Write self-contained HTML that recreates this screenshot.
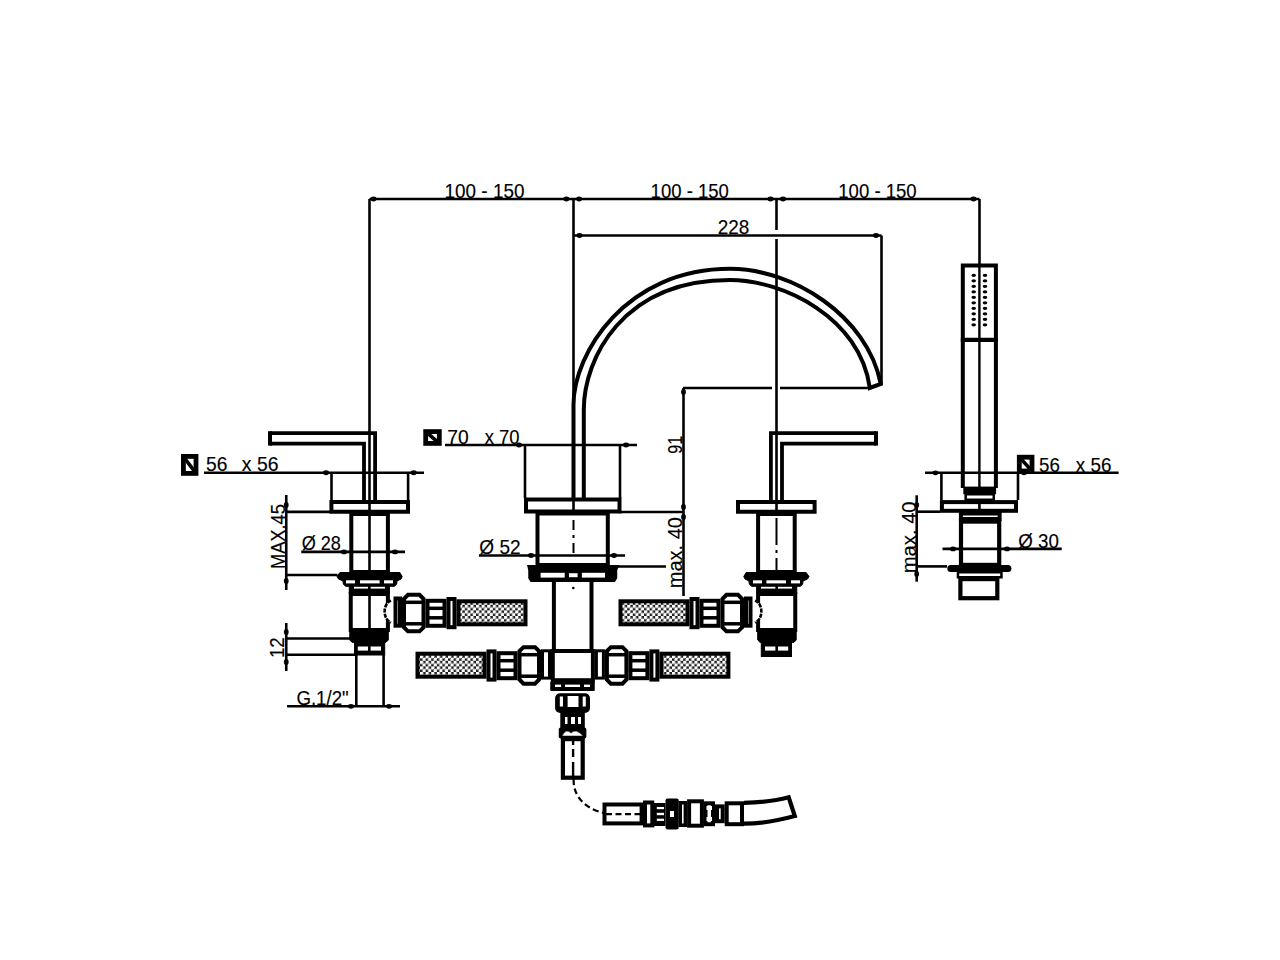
<!DOCTYPE html>
<html><head><meta charset="utf-8">
<style>
html,body{margin:0;padding:0;background:#fff;width:1280px;height:960px;overflow:hidden}
svg{display:block}
text{font-family:"Liberation Sans",sans-serif;font-size:21px;fill:#000;stroke:#000;stroke-width:0.15px}
</style></head>
<body>
<svg width="1280" height="960" viewBox="0 0 1280 960">
<defs>
  <pattern id="hatch" width="5.6" height="5.6" patternUnits="userSpaceOnUse" x="0" y="0">
    <rect width="5.6" height="5.6" fill="#1a1a1a"/>
    <circle cx="1.4" cy="1.4" r="1.85" fill="#fff"/>
    <circle cx="4.2" cy="4.2" r="1.85" fill="#fff"/>
  </pattern>
</defs>

<g stroke="#000" fill="none" stroke-width="2" stroke-linecap="butt">
<line x1="369.5" y1="199" x2="979.5" y2="199" stroke-width="2.6" />
<ellipse cx="373.5" cy="199" rx="3" ry="2.4" fill="#000" stroke="none"/>
<ellipse cx="566.4" cy="199" rx="3" ry="2.4" fill="#000" stroke="none"/>
<ellipse cx="579.2" cy="199" rx="3" ry="2.4" fill="#000" stroke="none"/>
<ellipse cx="770.5" cy="199" rx="3" ry="2.4" fill="#000" stroke="none"/>
<ellipse cx="783" cy="199" rx="3" ry="2.4" fill="#000" stroke="none"/>
<ellipse cx="973.5" cy="199" rx="3" ry="2.4" fill="#000" stroke="none"/>
<line x1="369.5" y1="199" x2="369.5" y2="500" stroke-width="2.6" />
<line x1="573.5" y1="199" x2="573.5" y2="400" stroke-width="2.6" />
<line x1="776.5" y1="199" x2="776.5" y2="230" stroke-width="2.6" />
<line x1="776.5" y1="239" x2="776.5" y2="500" stroke-width="2.6" />
<line x1="979.5" y1="199" x2="979.5" y2="265" stroke-width="2.6" />
<line x1="573.5" y1="235.5" x2="881.5" y2="235.5" stroke-width="2.6" />
<ellipse cx="579.5" cy="235.5" rx="3" ry="2.4" fill="#000" stroke="none"/>
<ellipse cx="876" cy="235.5" rx="3" ry="2.4" fill="#000" stroke="none"/>
<line x1="881.5" y1="235.5" x2="881.5" y2="384" stroke-width="2.6" />
<line x1="683" y1="388" x2="772" y2="388" stroke-width="2.6" />
<line x1="780" y1="388" x2="870" y2="388" stroke-width="2.6" />
<line x1="683.5" y1="388" x2="683.5" y2="596" stroke-width="2.6" />
<ellipse cx="683.5" cy="392" rx="2.4" ry="3" fill="#000" stroke="none"/>
<ellipse cx="683.5" cy="507" rx="2.4" ry="3" fill="#000" stroke="none"/>
<ellipse cx="683.5" cy="517" rx="2.4" ry="3" fill="#000" stroke="none"/>
<line x1="619" y1="512" x2="683.5" y2="512" stroke-width="2.6" />
<line x1="613" y1="566.5" x2="666" y2="566.5" stroke-width="2.6" />
<path d="M573.5,498 L573.5,404.6 C573.5,353.6 625.7,268.8 730,268.8 C792.3,268.8 867.3,315.6 880.8,384 L869.8,388 C860.4,317.5 782.7,280 730,280 C621.9,280 583.8,359.4 583.8,409.7 L583.8,498" stroke-width="4" fill="none" />
<line x1="445" y1="445" x2="637" y2="445" stroke-width="2.6" />
<ellipse cx="519" cy="445" rx="3" ry="2.4" fill="#000" stroke="none"/>
<ellipse cx="626" cy="445" rx="3" ry="2.4" fill="#000" stroke="none"/>
<line x1="525" y1="445" x2="525" y2="498" stroke-width="2.6" />
<line x1="620" y1="445" x2="620" y2="498" stroke-width="2.6" />
<rect x="526.00" y="499.50" width="93.50" height="12.00" rx="0" stroke-width="4" fill="#fff" />
<line x1="573.5" y1="498" x2="573.5" y2="513" stroke-width="2.6" />
<rect x="537.50" y="513.50" width="70.30" height="51.50" rx="0" stroke-width="4" fill="#fff" />
<path d="M573.5,520 V530 M573.5,535 V538 M573.5,543 V553" stroke-width="2" fill="none" />
<line x1="479" y1="555.5" x2="625" y2="555.5" stroke-width="2.6" />
<ellipse cx="531" cy="555.5" rx="3" ry="2.4" fill="#000" stroke="none"/>
<ellipse cx="614" cy="555.5" rx="3" ry="2.4" fill="#000" stroke="none"/>
<path d="M528,565.8 H618.3 L616.5,570 V578 L614.5,581.3 H531 L529,578 V570 Z" stroke-width="1.5" fill="#000" />
<rect x="540.60" y="572.80" width="24.10" height="4.80" fill="#fff" stroke="none"/>
<rect x="569.00" y="573.20" width="8.60" height="4.00" fill="#fff" stroke="none"/>
<rect x="581.90" y="572.80" width="23.10" height="4.80" fill="#fff" stroke="none"/>
<line x1="553.9" y1="581" x2="553.9" y2="651" stroke-width="4" />
<line x1="591.5" y1="581" x2="591.5" y2="651" stroke-width="4" />
<circle cx="573.3" cy="588" r="1.3" fill="#000" stroke="none"/>
<rect x="552.80" y="651.00" width="40.10" height="29.20" rx="0" stroke-width="4" fill="#fff" />
<rect x="542.50" y="650.80" width="7.00" height="27.30" rx="0" stroke-width="3" fill="#fff" />
<rect x="596.40" y="650.80" width="7.00" height="27.30" rx="0" stroke-width="3" fill="#fff" />
<path d="M550.8,682 H594.2 V690.5 H550.8 Z" stroke-width="1" fill="#000" />
<rect x="555.00" y="684.60" width="6.00" height="2.40" fill="#fff" stroke="none"/>
<rect x="565.00" y="684.60" width="15.00" height="2.40" fill="#fff" stroke="none"/>
<rect x="584.00" y="684.60" width="6.00" height="2.40" fill="#fff" stroke="none"/>
<path d="M523.5,647.2 H535 L539,651.2 V679.7 L535,683.7 H523.5 L519.5,679.7 V651.2 Z" stroke-width="4" fill="#fff" />
<line x1="519.5" y1="654.7" x2="539" y2="654.7" stroke-width="3.5" />
<line x1="519.5" y1="676.2" x2="539" y2="676.2" stroke-width="3.5" />
<rect x="498.50" y="653.20" width="17.00" height="25.00" rx="0" stroke-width="4" fill="#fff" />
<line x1="497" y1="660.7" x2="517" y2="660.7" stroke-width="3.5" />
<line x1="497" y1="670.2" x2="517" y2="670.2" stroke-width="3.5" />
<rect x="488.50" y="651.40" width="6.00" height="28.20" rx="0" stroke-width="4" fill="#fff" />
<rect x="417.50" y="653.70" width="67.00" height="23.00" rx="0" stroke-width="4" fill="url(#hatch)" />
<path d="M610.9,647.2 H622.4 L626.4,651.2 V679.7 L622.4,683.7 H610.9 L606.9,679.7 V651.2 Z" stroke-width="4" fill="#fff" />
<line x1="606.9" y1="654.7" x2="626.4" y2="654.7" stroke-width="3.5" />
<line x1="606.9" y1="676.2" x2="626.4" y2="676.2" stroke-width="3.5" />
<rect x="630.40" y="653.20" width="17.00" height="25.00" rx="0" stroke-width="4" fill="#fff" />
<line x1="628.9" y1="660.7" x2="648.9" y2="660.7" stroke-width="3.5" />
<line x1="628.9" y1="670.2" x2="648.9" y2="670.2" stroke-width="3.5" />
<rect x="651.40" y="651.40" width="6.00" height="28.20" rx="0" stroke-width="4" fill="#fff" />
<rect x="661.40" y="653.70" width="67.00" height="23.00" rx="0" stroke-width="4" fill="url(#hatch)" />
<path d="M270.00,433.10 L375.10,433.10 L375.10,500.00 " stroke-width="3.8" fill="none" />
<path d="M270.00,431.20 L270.00,445.60 " stroke-width="4" fill="none" />
<path d="M270.00,443.60 L364.00,443.60 L364.00,500.00 " stroke-width="3.8" fill="none" />
<line x1="331.5" y1="472.5" x2="331.5" y2="500" stroke-width="2.6" />
<line x1="408.1" y1="472.5" x2="408.1" y2="500" stroke-width="2.6" />
<rect x="331.40" y="502.00" width="76.60" height="9.75" rx="0" stroke-width="4" fill="#fff" />
<line x1="369.5" y1="500" x2="369.5" y2="514" stroke-width="2.6" />
<rect x="351.30" y="514.00" width="36.60" height="58.00" rx="0" stroke-width="4" fill="#fff" />
<line x1="369.5" y1="513" x2="369.5" y2="573" stroke-width="2.6" />
<path d="M339.90,572.50 L399.80,572.50 L402.20,576.50 L401.00,579.00 L397.00,581.00 L396.70,584.00 L394.50,586.30 L345.50,586.30 L343.30,584.00 L343.00,581.00 L338.50,579.00 L337.00,576.50 Z339.90,572.50 " stroke-width="1" fill="#000" />
<rect x="346.00" y="580.30" width="9.00" height="3.10" fill="#fff" stroke="none"/>
<rect x="360.00" y="580.30" width="19.60" height="3.10" fill="#fff" stroke="none"/>
<rect x="384.00" y="580.30" width="9.00" height="3.10" fill="#fff" stroke="none"/>
<rect x="349.25" y="586.50" width="40.15" height="6.50" rx="0" stroke-width="1" fill="#000" />
<rect x="354.00" y="586.80" width="14.00" height="1.80" fill="#fff" stroke="none"/>
<rect x="370.60" y="586.80" width="14.40" height="1.80" fill="#fff" stroke="none"/>
<rect x="350.75" y="594.00" width="37.15" height="36.00" rx="0" stroke-width="4" fill="#fff" />
<line x1="369.5" y1="593" x2="369.5" y2="631" stroke-width="2.6" />
<path d="M349.80,630.80 L388.30,630.80 L388.30,640.00 L386.00,642.30 L352.00,642.30 L349.80,640.00 Z349.80,630.80 " stroke-width="1" fill="#000" />
<rect x="354.50" y="642.00" width="30.20" height="13.00" rx="0" stroke-width="1" fill="#000" />
<rect x="357.80" y="646.50" width="10.20" height="4.10" fill="#fff" stroke="none"/>
<rect x="370.60" y="646.50" width="10.40" height="4.10" fill="#fff" stroke="none"/>
<path d="M391.00,600.60 C382.50,604.00  382.50,619.00  391.00,622.50 " stroke-width="2.6" fill="#fff" stroke-dasharray="4,1.2"/>
<rect x="395.50" y="598.50" width="4.50" height="27.20" rx="0" stroke-width="4" fill="#fff" />
<path d="M408,594.8 H419.5 L423.5,598.8 V627.3 L419.5,631.3 H408 L404,627.3 V598.8 Z" stroke-width="4" fill="#fff" />
<line x1="404" y1="602.3" x2="423.5" y2="602.3" stroke-width="3.5" />
<line x1="404" y1="623.8" x2="423.5" y2="623.8" stroke-width="3.5" />
<rect x="427.50" y="600.80" width="17.00" height="25.00" rx="0" stroke-width="4" fill="#fff" />
<line x1="426" y1="608.3" x2="446" y2="608.3" stroke-width="3.5" />
<line x1="426" y1="617.8" x2="446" y2="617.8" stroke-width="3.5" />
<rect x="448.50" y="599.00" width="6.00" height="28.20" rx="0" stroke-width="4" fill="#fff" />
<rect x="458.50" y="601.30" width="67.00" height="23.00" rx="0" stroke-width="4" fill="url(#hatch)" />
<path d="M876.00,433.10 L770.90,433.10 L770.90,500.00 " stroke-width="3.8" fill="none" />
<path d="M876.00,431.20 L876.00,445.60 " stroke-width="4" fill="none" />
<path d="M876.00,443.60 L782.00,443.60 L782.00,500.00 " stroke-width="3.8" fill="none" />
<rect x="738.00" y="502.00" width="76.60" height="9.75" rx="0" stroke-width="4" fill="#fff" />
<line x1="776.5" y1="500" x2="776.5" y2="514" stroke-width="2.6" />
<rect x="758.10" y="514.00" width="36.60" height="58.00" rx="0" stroke-width="4" fill="#fff" />
<path d="M776.5,518 V545 M776.5,550 V553 M776.5,558 V572" stroke-width="2" fill="none" />
<path d="M806.10,572.50 L746.20,572.50 L743.80,576.50 L745.00,579.00 L749.00,581.00 L749.30,584.00 L751.50,586.30 L800.50,586.30 L802.70,584.00 L803.00,581.00 L807.50,579.00 L809.00,576.50 Z806.10,572.50 " stroke-width="1" fill="#000" />
<rect x="791.00" y="580.30" width="9.00" height="3.10" fill="#fff" stroke="none"/>
<rect x="766.40" y="580.30" width="19.60" height="3.10" fill="#fff" stroke="none"/>
<rect x="753.00" y="580.30" width="9.00" height="3.10" fill="#fff" stroke="none"/>
<rect x="756.60" y="586.50" width="40.15" height="6.50" rx="0" stroke-width="1" fill="#000" />
<rect x="778.00" y="586.80" width="14.00" height="1.80" fill="#fff" stroke="none"/>
<rect x="761.00" y="586.80" width="14.40" height="1.80" fill="#fff" stroke="none"/>
<rect x="758.10" y="594.00" width="37.15" height="36.00" rx="0" stroke-width="4" fill="#fff" />
<path d="M796.20,630.80 L757.70,630.80 L757.70,640.00 L760.00,642.30 L794.00,642.30 L796.20,640.00 Z796.20,630.80 " stroke-width="1" fill="#000" />
<rect x="761.30" y="642.00" width="30.20" height="14.50" rx="0" stroke-width="1" fill="#000" />
<rect x="778.00" y="646.50" width="10.20" height="4.10" fill="#fff" stroke="none"/>
<rect x="765.00" y="646.50" width="10.40" height="4.10" fill="#fff" stroke="none"/>
<path d="M755.00,600.60 C763.50,604.00  763.50,619.00  755.00,622.50 " stroke-width="2.6" fill="#fff" stroke-dasharray="4,1.2"/>
<rect x="746.00" y="598.50" width="4.50" height="27.20" rx="0" stroke-width="4" fill="#fff" />
<path d="M726.5,594.8 H738 L742,598.8 V627.3 L738,631.3 H726.5 L722.5,627.3 V598.8 Z" stroke-width="4" fill="#fff" />
<line x1="722.5" y1="602.3" x2="742" y2="602.3" stroke-width="3.5" />
<line x1="722.5" y1="623.8" x2="742" y2="623.8" stroke-width="3.5" />
<rect x="701.50" y="600.80" width="17.00" height="25.00" rx="0" stroke-width="4" fill="#fff" />
<line x1="700" y1="608.3" x2="720" y2="608.3" stroke-width="3.5" />
<line x1="700" y1="617.8" x2="720" y2="617.8" stroke-width="3.5" />
<rect x="691.50" y="599.00" width="6.00" height="28.20" rx="0" stroke-width="4" fill="#fff" />
<rect x="620.50" y="601.30" width="67.00" height="23.00" rx="0" stroke-width="4" fill="url(#hatch)" />
<line x1="204" y1="472.75" x2="424" y2="472.75" stroke-width="2.6" />
<ellipse cx="326" cy="472.75" rx="3" ry="2.4" fill="#000" stroke="none"/>
<ellipse cx="413.7" cy="472.75" rx="3" ry="2.4" fill="#000" stroke="none"/>
<line x1="286.25" y1="495" x2="286.25" y2="590" stroke-width="2.6" />
<ellipse cx="286.25" cy="505" rx="2.4" ry="3" fill="#000" stroke="none"/>
<ellipse cx="286.25" cy="581" rx="2.4" ry="3" fill="#000" stroke="none"/>
<line x1="286.25" y1="511.9" x2="330" y2="511.9" stroke-width="2.6" />
<line x1="286.25" y1="575" x2="337.5" y2="575" stroke-width="2.6" />
<line x1="301.25" y1="551.9" x2="405" y2="551.9" stroke-width="2.6" />
<ellipse cx="344" cy="551.9" rx="3" ry="2.4" fill="#000" stroke="none"/>
<ellipse cx="395" cy="551.9" rx="3" ry="2.4" fill="#000" stroke="none"/>
<line x1="286.25" y1="623" x2="286.25" y2="671" stroke-width="2.6" />
<ellipse cx="286.25" cy="632" rx="2.4" ry="3" fill="#000" stroke="none"/>
<ellipse cx="286.25" cy="662" rx="2.4" ry="3" fill="#000" stroke="none"/>
<line x1="286.25" y1="638.5" x2="350" y2="638.5" stroke-width="2.6" />
<line x1="286.25" y1="654.8" x2="355" y2="654.8" stroke-width="2.6" />
<line x1="356.3" y1="655" x2="356.3" y2="706" stroke-width="2.6" />
<line x1="383.6" y1="655" x2="383.6" y2="706" stroke-width="2.6" />
<line x1="287" y1="706.3" x2="400" y2="706.3" stroke-width="2.6" />
<ellipse cx="351" cy="706.3" rx="3" ry="2.4" fill="#000" stroke="none"/>
<ellipse cx="389" cy="706.3" rx="3" ry="2.4" fill="#000" stroke="none"/>
<rect x="557.10" y="695.30" width="30.90" height="15.70" rx="3" stroke-width="4" fill="#fff" />
<rect x="559.80" y="695.40" width="3.20" height="12.00" fill="#000" stroke="none"/>
<rect x="556" y="694" width="33" height="18" fill="#000" stroke="none" rx="3"/>
<rect x="559.80" y="696.50" width="3.20" height="10.00" fill="#fff" stroke="none"/>
<rect x="567.60" y="696.00" width="10.90" height="11.00" fill="#fff" stroke="none"/>
<rect x="582.70" y="696.50" width="3.10" height="10.00" fill="#fff" stroke="none"/>
<rect x="560.3" y="712" width="24.5" height="16" fill="#000" stroke="none"/>
<rect x="565.00" y="717.00" width="2.50" height="7.00" fill="#fff" stroke="none"/>
<rect x="571.00" y="717.00" width="4.00" height="7.00" fill="#fff" stroke="none"/>
<rect x="578.00" y="717.00" width="3.00" height="7.00" fill="#fff" stroke="none"/>
<rect x="558.75" y="727.5" width="27.6" height="11" fill="#000" stroke="none" rx="2"/>
<path d="M562,736 Q566,728 571,733 Q576,728 583,736 Z" stroke-width="0.5" fill="#fff" />
<rect x="562.90" y="739.10" width="19.80" height="38.60" rx="0" stroke-width="4.2" fill="#fff" />
<path d="M573.1,740 V745 M573.1,749 V757 M573.1,762 V779" stroke-width="2.4" fill="none" />
<path d="M573.6,779 C573,800 590,810 603.5,812.7 C612,814 620,814.2 647,814.2" stroke-width="2.2" fill="none" stroke-dasharray="6,3.5"/>
<rect x="604.50" y="804.50" width="37.10" height="18.90" rx="0" stroke-width="4" fill="#fff" />
<path d="M606,814.2 H643" stroke-width="2.2" fill="none" stroke-dasharray="6,3.5"/>
<rect x="645.00" y="802.50" width="7.30" height="22.90" rx="0" stroke-width="4" fill="#fff" />
<rect x="654.00" y="803.00" width="11.50" height="23.00" fill="#000" stroke="none"/>
<rect x="656.80" y="807.00" width="7.20" height="2.20" fill="#fff" stroke="none"/>
<rect x="656.80" y="812.80" width="7.20" height="2.40" fill="#fff" stroke="none"/>
<rect x="656.80" y="818.70" width="7.20" height="2.20" fill="#fff" stroke="none"/>
<rect x="665.5" y="798.4" width="13.2" height="31" fill="#000" stroke="none" rx="2"/>
<rect x="670.00" y="811.00" width="4.00" height="6.00" fill="#fff" stroke="none"/>
<rect x="680.25" y="802.75" width="5.10" height="22.50" rx="0" stroke-width="3.5" fill="#fff" />
<rect x="689.10" y="801.30" width="12.80" height="24.40" rx="0" stroke-width="4" fill="#fff" />
<rect x="705.50" y="803.30" width="7.50" height="20.90" rx="0" stroke-width="4" fill="#fff" />
<rect x="706.50" y="806.00" width="5.50" height="4.00" fill="#fff" stroke="none"/>
<rect x="706.50" y="817.00" width="5.50" height="4.00" fill="#fff" stroke="none"/>
<rect x="717.00" y="806.40" width="5.70" height="14.80" rx="0" stroke-width="4" fill="#fff" />
<rect x="726.70" y="803.30" width="15.30" height="20.90" rx="0" stroke-width="4" fill="#fff" />
<path d="M744,802.9 C760,802.5 775,801 788.7,797.3 L794.8,816 C780,820 762,823.7 744,823.7" stroke-width="4.2" fill="none" />
<path d="M962.8,488 V265.4 H995.9 V488" stroke-width="4" fill="none" />
<line x1="960.8" y1="339.9" x2="997.9" y2="339.9" stroke-width="4.4" />
<line x1="979.4" y1="265" x2="979.4" y2="600" stroke-width="2.4" />
<rect x="963.30" y="486.60" width="32.80" height="7.60" fill="#000" stroke="none"/>
<rect x="965.65" y="494.25" width="28.10" height="5.50" rx="0" stroke-width="2.5" fill="#fff" />
<rect x="941.90" y="502.10" width="74.10" height="8.70" rx="0" stroke-width="4" fill="#fff" />
<line x1="979.4" y1="500" x2="979.4" y2="513" stroke-width="2.6" />
<rect x="960.90" y="513.50" width="38.70" height="5.50" rx="0" stroke-width="4" fill="#fff" />
<rect x="961.00" y="521.60" width="38.20" height="43.30" rx="0" stroke-width="4.2" fill="#fff" />
<rect x="947.3" y="564.9" width="64.1" height="7" rx="3.5" fill="#000" stroke="none"/>
<rect x="957.95" y="572.25" width="43.50" height="5.00" rx="0" stroke-width="2.5" fill="#fff" />
<rect x="960.40" y="579.10" width="36.90" height="19.10" rx="0" stroke-width="4.2" fill="#fff" />
<line x1="925" y1="472.8" x2="1118.6" y2="472.8" stroke-width="2.6" />
<ellipse cx="935.5" cy="472.8" rx="3" ry="2.4" fill="#000" stroke="none"/>
<ellipse cx="1024" cy="472.8" rx="3" ry="2.4" fill="#000" stroke="none"/>
<line x1="941.4" y1="472.8" x2="941.4" y2="500" stroke-width="2.6" />
<line x1="1018" y1="472.8" x2="1018" y2="500" stroke-width="2.6" />
<line x1="942.5" y1="548.9" x2="1061.7" y2="548.9" stroke-width="2.6" />
<ellipse cx="953" cy="548.9" rx="3" ry="2.4" fill="#000" stroke="none"/>
<ellipse cx="1007" cy="548.9" rx="3" ry="2.4" fill="#000" stroke="none"/>
<line x1="916.7" y1="495.3" x2="916.7" y2="581.7" stroke-width="2.6" />
<ellipse cx="916.7" cy="505" rx="2.4" ry="3" fill="#000" stroke="none"/>
<ellipse cx="916.7" cy="574" rx="2.4" ry="3" fill="#000" stroke="none"/>
<line x1="916.7" y1="511.7" x2="940" y2="511.7" stroke-width="2.6" />
<line x1="916.7" y1="566.4" x2="947" y2="566.4" stroke-width="2.6" />
</g>
<g fill="#000">
<ellipse cx="973.7" cy="275.3" rx="2.3" ry="1.6"/><ellipse cx="985" cy="275.3" rx="2.3" ry="1.6"/>
<ellipse cx="973.7" cy="280.8" rx="2.3" ry="1.6"/><ellipse cx="985" cy="280.8" rx="2.3" ry="1.6"/>
<ellipse cx="973.7" cy="286.3" rx="2.3" ry="1.6"/><ellipse cx="985" cy="286.3" rx="2.3" ry="1.6"/>
<ellipse cx="973.7" cy="291.8" rx="2.3" ry="1.6"/><ellipse cx="985" cy="291.8" rx="2.3" ry="1.6"/>
<ellipse cx="973.7" cy="297.3" rx="2.3" ry="1.6"/><ellipse cx="985" cy="297.3" rx="2.3" ry="1.6"/>
<ellipse cx="973.7" cy="302.8" rx="2.3" ry="1.6"/><ellipse cx="985" cy="302.8" rx="2.3" ry="1.6"/>
<ellipse cx="973.7" cy="308.3" rx="2.3" ry="1.6"/><ellipse cx="985" cy="308.3" rx="2.3" ry="1.6"/>
<ellipse cx="973.7" cy="313.8" rx="2.3" ry="1.6"/><ellipse cx="985" cy="313.8" rx="2.3" ry="1.6"/>
<ellipse cx="973.7" cy="319.3" rx="2.3" ry="1.6"/><ellipse cx="985" cy="319.3" rx="2.3" ry="1.6"/>
<ellipse cx="973.7" cy="324.8" rx="2.3" ry="1.6"/><ellipse cx="985" cy="324.8" rx="2.3" ry="1.6"/>
</g>
<g stroke="#000" fill="none"><rect x="183.4" y="456.4" width="12.600000000000005" height="17.00000000000001" stroke-width="4.8"/><path d="M183,456 L196.4,473.8" stroke-width="3.6"/></g>
<g stroke="#000" fill="none"><rect x="425.7" y="431.59999999999997" width="13.599999999999977" height="11.800000000000022" stroke-width="4.8"/><path d="M425.3,431.2 L439.7,443.8" stroke-width="3.6"/></g>
<g stroke="#000" fill="none"><rect x="1019.3" y="457.2" width="12.700000000000113" height="13.799999999999965" stroke-width="4.8"/><path d="M1018.9,456.8 L1032.4,471.4" stroke-width="3.6"/></g>
<g>
<text x="444.6" y="197.6" textLength="79.8" lengthAdjust="spacingAndGlyphs">100 - 150</text>
<text x="650.6" y="197.6" textLength="78.3" lengthAdjust="spacingAndGlyphs">100 - 150</text>
<text x="838.3" y="197.6" textLength="78.4" lengthAdjust="spacingAndGlyphs">100 - 150</text>
<text x="717.8" y="234" textLength="31.6" lengthAdjust="spacingAndGlyphs">228</text>
<text x="206.1" y="471.4" textLength="21.4" lengthAdjust="spacingAndGlyphs">56</text>
<text x="241.8" y="471.4" textLength="36.7" lengthAdjust="spacingAndGlyphs">x 56</text>
<text x="447.3" y="443.7" textLength="21.4" lengthAdjust="spacingAndGlyphs">70</text>
<text x="484.8" y="443.7" textLength="34.8" lengthAdjust="spacingAndGlyphs">x 70</text>
<text x="479.3" y="554" textLength="41.3" lengthAdjust="spacingAndGlyphs">Ø 52</text>
<text x="301.7" y="549.5" textLength="39.2" lengthAdjust="spacingAndGlyphs">Ø 28</text>
<text x="296.4" y="704.8" textLength="52.3" lengthAdjust="spacingAndGlyphs">G.1/2&quot;</text>
<text x="1039.1" y="471.5" textLength="20.8" lengthAdjust="spacingAndGlyphs">56</text>
<text x="1075.8" y="471.5" textLength="35.7" lengthAdjust="spacingAndGlyphs">x 56</text>
<text x="1018.3" y="547.6" textLength="40.6" lengthAdjust="spacingAndGlyphs">Ø 30</text>
<text transform="translate(285.2,569) rotate(-90)" textLength="64.9" lengthAdjust="spacingAndGlyphs">MAX.45</text>
<text transform="translate(284.4,658.1) rotate(-90)" textLength="20.7" lengthAdjust="spacingAndGlyphs">12</text>
<text transform="translate(682,453.7) rotate(-90)" textLength="17.9" lengthAdjust="spacingAndGlyphs">91</text>
<text transform="translate(682.2,588.2) rotate(-90)" textLength="71.2" lengthAdjust="spacingAndGlyphs">max. 40</text>
<text transform="translate(915.6,573.2) rotate(-90)" textLength="71.8" lengthAdjust="spacingAndGlyphs">max. 40</text>
</g>
</svg>
</body></html>
